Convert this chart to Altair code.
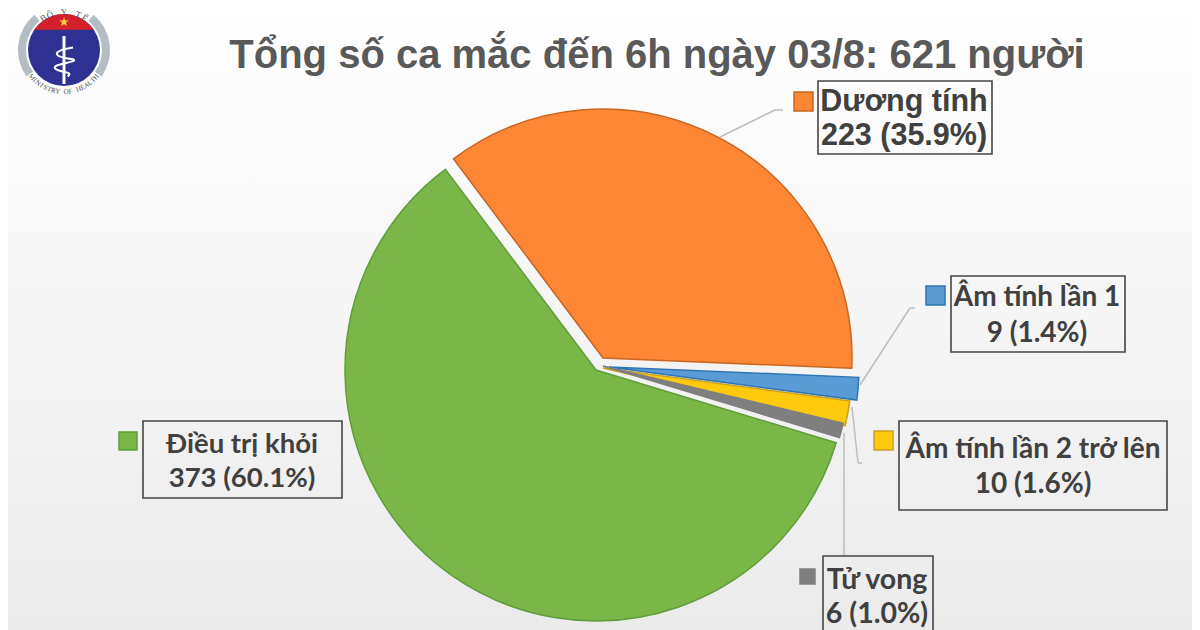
import math
import altair as alt
import pandas as pd

# ---- values ----
categories = ["Dương tính", "Âm tính lần 1", "Âm tính lần 2 trở lên", "Tử vong", "Điều trị khỏi"]
values = [223, 9, 10, 6, 373]
value_labels = ["223 (35.9%)", "9 (1.4%)", "10 (1.6%)", "6 (1.0%)", "373 (60.1%)"]
title_text = "Tổng số ca mắc đến 6h ngày 03/8: 621 người"

# ---- styles ----
fills = ["#fd8735", "#5b9bd5", "#ffc90e", "#7f7f7f", "#7ab648"]
strokes = ["#c9661f", "#2e75b6", "#c9a227", "#7f7f7f", "#5f9e3a"]
W, H = 1184, 622
M = 8  # page margin: image coordinate = plot coordinate + M
TXT = "#404040"
FONT = "Lato"


def px(v):
    return alt.value(v - M)


df = pd.DataFrame({"cat": categories, "v": values})
df["end"] = df["v"].cumsum()
df["start"] = df["end"] - df["v"]
total = int(df["v"].sum())

first_angle = math.radians(-36.9)
theta_scale = alt.Scale(domain=[0, total], range=[first_angle, first_angle + 2 * math.pi])
base = alt.Chart(pd.DataFrame({"a": [0]}))
layers = []

# background
layers.append(base.mark_rect(color=alt.LinearGradient(
    gradient="linear", x1=0, x2=0, y1=0, y2=1,
    stops=[alt.GradientStop(offset=0, color="#ffffff"),
           alt.GradientStop(offset=0.5, color="#f5f5f5"),
           alt.GradientStop(offset=1, color="#ebebeb")])).encode(
    x=alt.value(0), x2=alt.value(W), y=alt.value(0), y2=alt.value(H)))

# exploded pie: apex and radius of every slice
apex = {
    "Dương tính": (603, 358, 249),
    "Âm tính lần 1": (609, 367, 250),
    "Âm tính lần 2 trở lên": (603, 368, 249),
    "Tử vong": (603, 366, 247),
    "Điều trị khỏi": (596, 370, 251),
}
for i, c in enumerate(categories):
    ax, ay, rad = apex[c]
    layers.append(alt.Chart(df[df["cat"] == c]).mark_arc(
        outerRadius=rad, fill=fills[i], stroke=strokes[i], strokeWidth=1.5
    ).encode(
        theta=alt.Theta("start:Q", scale=theta_scale, stack=False),
        theta2="end:Q",
        x=px(ax), y=px(ay),
    ))

# leader lines
leaders = [
    [(720, 137), (775, 110), (783, 110)],
    [(860, 385), (910, 308), (915, 308)],
    [(852, 407), (858, 463), (862, 463)],
    [(844, 433), (844, 556)],
]
for pts in leaders:
    for (x0, y0), (x1, y1) in zip(pts, pts[1:]):
        layers.append(base.mark_rule(color="#bdbdbd", strokeWidth=1.5).encode(
            x=px(x0), x2=px(x1), y=px(y0), y2=px(y1)))

# label boxes, legend squares, label text
boxes = [(818, 992, 81, 154), (951, 1125, 276, 352), (899, 1167, 421, 510),
         (823, 933, 556, 640), (143, 342, 421, 498)]
squares = [(794, 813, 92, 111), (926, 945, 286, 305), (874, 893, 431, 450),
           (800, 815, 569, 584), (119, 137, 432, 450)]
text_pos = [(904, 111, 145, 30.5), (1037, 306, 342, 28), (1033, 458, 493, 28),
            (877, 589, 623, 28.5), (242, 453, 487, 27.5)]
for i, c in enumerate(categories):
    x0, x1, y0, y1 = boxes[i]
    layers.append(base.mark_rect(fillOpacity=0, stroke="#454545", strokeWidth=1.6).encode(
        x=px(x0), x2=px(x1), y=px(y0), y2=px(y1)))
    x0, x1, y0, y1 = squares[i]
    layers.append(base.mark_rect(fill=fills[i], stroke=strokes[i], strokeWidth=1.5).encode(
        x=px(x0), x2=px(x1), y=px(y0), y2=px(y1)))
    tx, b1, b2, fs = text_pos[i]
    fam = "Liberation Sans" if i == 0 else FONT
    for txt, b in ((c, b1), (value_labels[i], b2)):
        layers.append(base.mark_text(
            text=txt, font=fam, fontSize=fs, fontWeight="bold", color=TXT,
            align="center", baseline="alphabetic"
        ).encode(x=px(tx), y=px(b)))

# ministry logo
cx, cy = 64, 50
for a0, a1 in ((40, 125), (235, 320)):
    layers.append(base.mark_arc(innerRadius=38, outerRadius=46, fill="#b4bcc4",
                                theta=math.radians(a0), theta2=math.radians(a1)).encode(
        x=px(cx), y=px(cy)))
layers.append(base.mark_point(shape="circle", filled=True, size=5184, color="#2f3192", opacity=1).encode(
    x=px(cx), y=px(cy)))
layers.append(base.mark_point(shape="M -0.83 -0.56 A 1 1 0 0 1 0.83 -0.56 Z", filled=True,
                              size=5184, color="#d4202a", opacity=1).encode(x=px(cx), y=px(cy)))
layers.append(base.mark_point(
    shape="M 0 -1 L 0.24 -0.31 L 0.95 -0.31 L 0.38 0.12 L 0.59 0.81 L 0 0.4 L -0.59 0.81 L -0.38 0.12 L -0.95 -0.31 L -0.24 -0.31 Z",
    filled=True, size=100, color="#ffd23f", opacity=1).encode(x=px(cx), y=px(22)))
layers.append(base.mark_rule(color="#ffffff", strokeWidth=3).encode(
    x=px(cx), x2=px(cx), y=px(36), y2=px(84)))
layers.append(base.mark_point(
    shape="M 0.5 -0.8 C -0.7 -0.6 -0.7 -0.3 0.5 -0.15 C 0.9 0 -0.7 0.1 -0.5 0.35 C -0.3 0.6 0.6 0.5 0.2 0.8",
    filled=False, size=1300, color="#ffffff", strokeWidth=2, opacity=1).encode(x=px(cx), y=px(62)))
top_word = "BỘ Y TẾ"
for k, ch in enumerate(top_word):
    phi = -33 + 66 * k / (len(top_word) - 1)
    r = math.radians(phi)
    layers.append(base.mark_text(text=ch, fontSize=9, font="Liberation Serif", color="#555555",
                                 angle=phi % 360, align="center", baseline="middle").encode(
        x=px(cx + 38 * math.sin(r)), y=px(cy - 38 * math.cos(r))))
bottom_word = "MINISTRY OF HEALTH"
for k, ch in enumerate(bottom_word):
    phi = -50 + 100 * k / (len(bottom_word) - 1)
    r = math.radians(phi)
    layers.append(base.mark_text(text=ch, fontSize=7, font="Liberation Serif", color="#555555",
                                 angle=(-phi) % 360, align="center", baseline="middle").encode(
        x=px(cx + 42 * math.sin(r)), y=px(cy + 42 * math.cos(r))))

chart = alt.layer(*layers).properties(
    width=W, height=H,
    autosize=alt.AutoSizeParams(type="none"),
    padding=0,
    background="#ffffff",
    title=alt.TitleParams(
        text=title_text, font="Liberation Sans", fontSize=40, fontWeight="bold",
        color="#595959", anchor="middle", baseline="alphabetic", offset=0,
        dx=57, dy=100,
    ),
).configure_view(stroke=None)

chart.save("out.html", embed_options={"renderer": "svg", "actions": False})
